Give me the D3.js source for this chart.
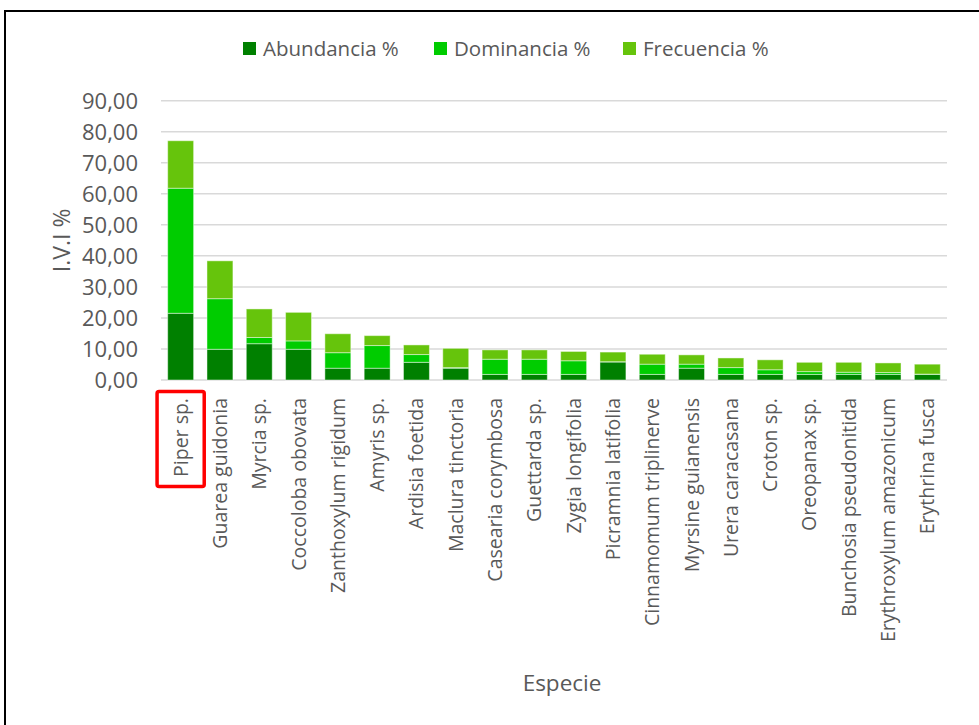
<!DOCTYPE html>
<html>
<head>
<meta charset="utf-8">
<script src="https://cdn.jsdelivr.net/npm/d3@7"></script>
<style>
  html, body { margin: 0; padding: 0; background: #ffffff; }
  svg { display: block; font-family: "Open Sans", "Noto Sans", sans-serif; }
</style>
</head>
<body>
<svg id="chart" width="979" height="725"></svg>
<script>
const categories = ["Piper sp.", "Guarea guidonia", "Myrcia sp.", "Coccoloba obovata", "Zanthoxylum rigidum",
  "Amyris sp.", "Ardisia foetida", "Maclura tinctoria", "Casearia corymbosa", "Guettarda sp.",
  "Zygia longifolia", "Picramnia latifolia", "Cinnamomum triplinerve", "Myrsine guianensis", "Urera caracasana",
  "Croton sp.", "Oreopanax sp.", "Bunchosia pseudonitida", "Erythroxylum amazonicum", "Erythrina fusca"];
const abundancia = [21.5, 9.9, 11.7, 9.9, 3.8, 3.8, 5.7, 3.8, 1.8, 1.8, 1.8, 5.8, 1.8, 3.8, 1.8, 1.8, 1.8, 1.8, 1.8, 1.8];
const dominancia = [40.3, 16.3, 2.0, 2.7, 5.0, 7.3, 2.5, 0.2, 4.9, 4.9, 4.4, 0.1, 3.3, 1.3, 2.2, 1.5, 0.9, 0.7, 0.6, 0.1];
const frecuencia = [15.3, 12.2, 9.2, 9.2, 6.1, 3.2, 3.1, 6.2, 3.0, 3.0, 3.0, 3.1, 3.2, 3.0, 3.1, 3.2, 3.0, 3.2, 3.1, 3.2];
const seriesNames = ["Abundancia %", "Dominancia %", "Frecuencia %"];
const yTicks = [0, 10, 20, 30, 40, 50, 60, 70, 80, 90];
const highlighted = "Piper sp.";

const colors = ["#008000", "#00cc00", "#66c40c"];
const textColor = "#595959";

const svg = d3.select("#chart");

// outer border
svg.append("rect").attr("x", 5).attr("y", 11).attr("width", 1000).attr("height", 800)
  .attr("fill", "none").attr("stroke", "#000").attr("stroke-width", 2);

const plot = { left: 161, right: 947, top: 100.7, bottom: 380 };

const x = d3.scaleBand().domain(categories).range([plot.left, plot.right]).paddingInner(0.34).paddingOuter(0.17);
const y = d3.scaleLinear().domain([0, 90]).range([plot.bottom, plot.top]);

// gridlines
svg.append("g").selectAll("line").data(yTicks).join("line")
  .attr("x1", plot.left).attr("x2", plot.right)
  .attr("y1", d => y(d)).attr("y2", d => y(d))
  .attr("stroke", "#d9d9d9").attr("stroke-width", 1.5);

// y tick labels
const fmt = d => d3.format(".2f")(d).replace(".", ",");
svg.append("g").selectAll("text").data(yTicks).join("text")
  .attr("x", 138).attr("y", d => y(d)).attr("dy", "0.36em")
  .attr("text-anchor", "end").attr("fill", textColor).attr("font-size", 22)
  .text(fmt);

// stacked data
const rows = categories.map((c, i) => ({ cat: c, a: abundancia[i], d: dominancia[i], f: frecuencia[i] }));
const stack = d3.stack().keys(["a", "d", "f"])(rows);

svg.append("g").selectAll("g").data(stack).join("g")
  .attr("fill", (d, i) => colors[i])
  .selectAll("rect").data(d => d).join("rect")
  .attr("x", d => x(d.data.cat))
  .attr("width", x.bandwidth())
  .attr("y", d => y(d[1]))
  .attr("height", d => Math.max(0, y(d[0]) - y(d[1])))
  .attr("stroke", "rgba(255,255,255,0.45)").attr("stroke-width", 1);

// category labels
const catG = svg.append("g");
const labels = catG.selectAll("text").data(categories).join("text")
  .attr("transform", d => `translate(${x(d) + x.bandwidth() / 2},398) rotate(-90)`)
  .attr("dy", "0.36em")
  .attr("text-anchor", "end").attr("fill", textColor).attr("font-size", 19.5)
  .text(d => d);

// highlight box
labels.filter(d => d === highlighted).each(function (d) {
  const bb = this.getBBox();
  const cx = x(d) + x.bandwidth() / 2;
  const w = x.step() * 1.2;
  svg.append("rect")
    .attr("x", cx - w / 2).attr("y", 398 - 6.5)
    .attr("width", w).attr("height", bb.width + 16)
    .attr("rx", 2).attr("fill", "none").attr("stroke", "#ff0000").attr("stroke-width", 3.5);
});

// axis titles
svg.append("text").attr("x", (plot.left + plot.right) / 2 + 8).attr("y", 683).attr("dy", "0.36em")
  .attr("text-anchor", "middle").attr("fill", textColor).attr("font-size", 22.5).text("Especie");
svg.append("text").attr("transform", `translate(62,${(plot.top + plot.bottom) / 2}) rotate(-90)`)
  .attr("dy", "0.36em").attr("text-anchor", "middle").attr("fill", textColor).attr("font-size", 23).text("I.V.I %");

// legend
const legendX = [243, 434, 623];
const lg = svg.append("g").selectAll("g").data(seriesNames).join("g")
  .attr("transform", (d, i) => `translate(${legendX[i]},42)`);
lg.append("rect").attr("width", 13).attr("height", 13).attr("fill", (d, i) => colors[i]);
lg.append("text").attr("x", 20).attr("y", 6.5).attr("dy", "0.36em")
  .attr("fill", textColor).attr("font-size", 20.5).text(d => d);
</script>
</body>
</html>
